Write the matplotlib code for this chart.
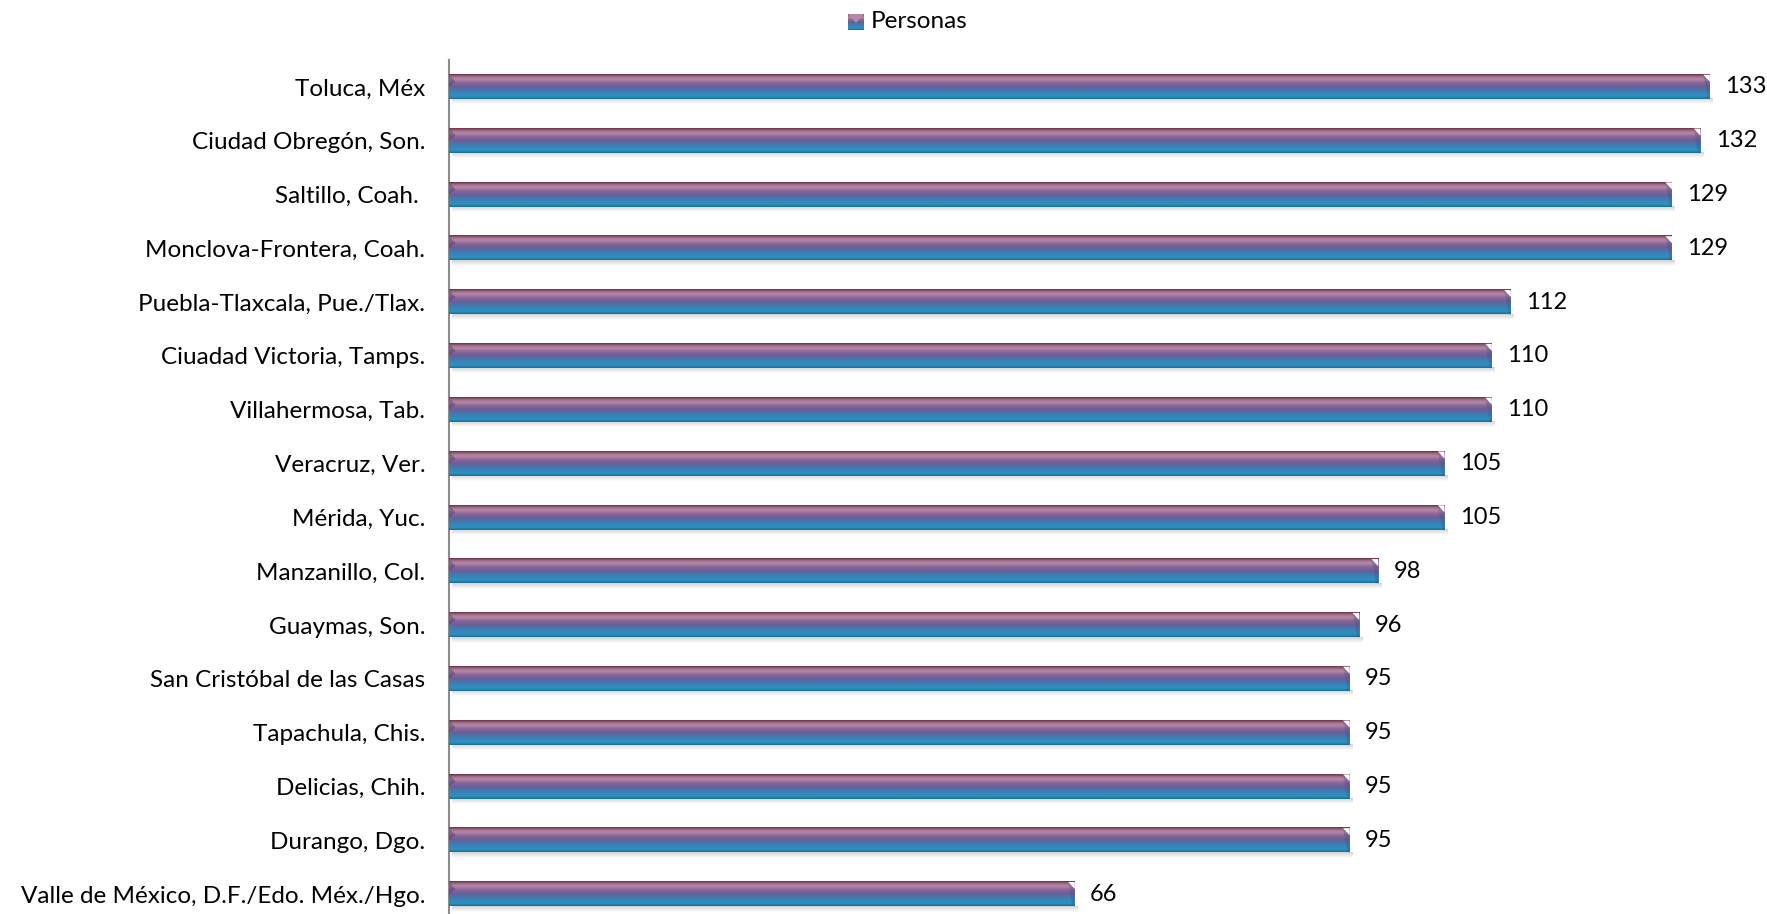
import matplotlib
matplotlib.use("Agg")
import matplotlib.pyplot as plt
import numpy as np
from matplotlib.colors import LinearSegmentedColormap
from matplotlib.patches import Polygon

plt.rcParams["font.family"] = ["Lato", "DejaVu Sans"]

cities = [
    "Toluca, Méx",
    "Ciudad Obregón, Son.",
    "Saltillo, Coah. ",
    "Monclova-Frontera, Coah.",
    "Puebla-Tlaxcala, Pue./Tlax.",
    "Ciuadad Victoria, Tamps.",
    "Villahermosa, Tab.",
    "Veracruz, Ver.",
    "Mérida, Yuc.",
    "Manzanillo, Col.",
    "Guaymas, Son.",
    "San Cristóbal de las Casas",
    "Tapachula, Chis.",
    "Delicias, Chih.",
    "Durango, Dgo.",
    "Valle de México, D.F./Edo. Méx./Hgo.",
]
personas = [133, 132, 129, 129, 112, 110, 110, 105, 105, 98, 96, 95, 95, 95, 95, 66]
series_name = "Personas"

# bottom -> top of each bar
bar_cmap = LinearSegmentedColormap.from_list(
    "bevel",
    [
        (0.00, "#1c6d93"),
        (0.10, "#2b92c2"),
        (0.30, "#3a7fb4"),
        (0.50, "#6a5f98"),
        (0.65, "#8a6598"),
        (0.80, "#b689a8"),
        (0.90, "#a0708e"),
        (1.00, "#6e3246"),
    ],
)
shadow_cmap = LinearSegmentedColormap.from_list("shadow", ["#ffffff", "#d2d2d2"])
grad = np.linspace(0, 1, 64).reshape(-1, 1)

W, H = 1767, 914
fig = plt.figure(figsize=(W / 100, H / 100), dpi=100)
ax_left, ax_top, ax_bot = 449, 60, 921
ax = fig.add_axes([ax_left / W, (H - ax_bot) / H, (W - ax_left) / W, (ax_bot - ax_top) / H])

n = len(cities)
ypos = np.arange(n)[::-1]
bh = 0.45
xmax = (W - ax_left) / 9.48

bars = ax.barh(ypos, personas, height=bh, color="none", edgecolor="none", zorder=3)
for y, v in zip(ypos, personas):
    ax.imshow(grad, extent=[0, v, y - bh / 2, y + bh / 2], origin="lower",
              aspect="auto", cmap=bar_cmap, zorder=3, interpolation="bilinear")
    ax.imshow(grad, extent=[0.3, v + 0.3, y - bh / 2 - 0.1, y - bh / 2], origin="lower",
              aspect="auto", cmap=shadow_cmap, zorder=2, interpolation="bilinear")
    b = 0.7
    ax.add_patch(Polygon([[0, y + bh / 2], [b, y + bh / 2 - 0.13], [0, y]],
                         closed=True, facecolor="#5a3a6e", alpha=0.45, edgecolor="none", zorder=4))
    ax.add_patch(Polygon([[v, y + bh / 2], [v - b, y + bh / 2], [v, y + bh / 2 - 0.13]],
                         closed=True, facecolor="#ffffff", edgecolor="none", zorder=4))
    ax.add_patch(Polygon([[v - b, y + bh / 2], [v, y + bh / 2 - 0.13], [v, y - bh / 2], [v - 0.2, y - bh / 2]],
                         closed=True, facecolor="#3e4f80", alpha=0.3, edgecolor="none", zorder=4))

ax.bar_label(bars, labels=[str(v) for v in personas], padding=11, fontsize=17, color="#000000")

ax.set_xlim(0, xmax)
ax.set_ylim(-0.5, n - 0.5)
ax.set_yticks(ypos)
ax.set_yticklabels(cities, fontsize=17.5)
ax.tick_params(axis="y", length=0, pad=17)
ax.set_xticks([])
ax.spines[["top", "right", "bottom"]].set_visible(False)
ax.spines["left"].set_color("#8c8c8c")
ax.spines["left"].set_linewidth(1.5)

# legend
lax = fig.add_axes([848 / W, 1 - 30 / H, 16 / W, 16 / H])
lax.imshow(grad, origin="lower", aspect="auto", cmap=bar_cmap, extent=[0, 1, 0, 1])
lax.add_patch(Polygon([[0, 1], [1, 1], [0.5, 0.45]], closed=True, facecolor="#b689a8", edgecolor="none"))
lax.set_axis_off()
fig.text(871 / W, 1 - 21 / H, series_name, fontsize=17.5, va="center", ha="left")

fig.savefig("out.png", dpi=100)
